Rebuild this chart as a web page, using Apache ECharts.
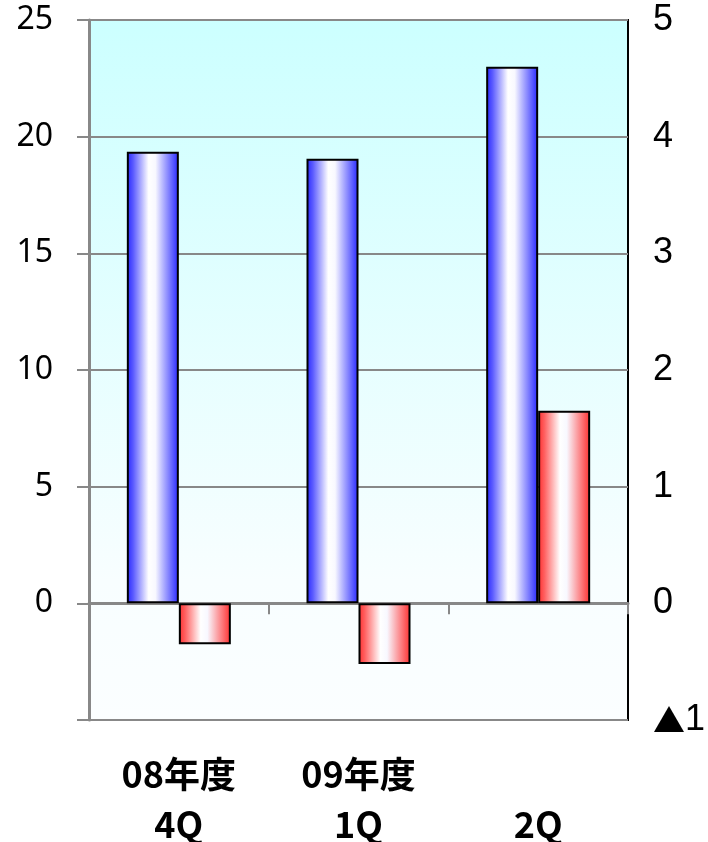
<!DOCTYPE html>
<html>
<head>
<meta charset="utf-8">
<style>
  html, body { margin: 0; padding: 0; background: #ffffff; }
  #chart { width: 708px; height: 842px; }
</style>
<script src="https://cdn.jsdelivr.net/npm/echarts@6/dist/echarts.min.js"></script>
</head>
<body>
<div id="chart"></div>
<script>
// Fiscal periods (two-line category labels)
const yearLabels = ['08年度', '09年度', ''];
const quarterLabels = ['4Q', '1Q', '2Q'];
const categories = yearLabels.map((y, i) => y + '\n' + quarterLabels[i]);

// Left-axis series (blue bars) and right-axis series (red bars)
const leftValues = [19.35, 19.05, 23.0];
const rightValues = [-0.35, -0.52, 1.65];

// Axis tick settings
const leftAxis = { min: -5, max: 25, interval: 5 };
const rightAxis = { min: -1, max: 5, interval: 1 };

// Negative values on the right axis are written with a triangle
function formatRight(v) {
  return v < 0 ? '{tri|▲}' + Math.abs(v) : String(v);
}
function formatLeft(v) {
  return v < 0 ? '' : String(v);
}

// Cylinder-like shading across each bar
function barGradient(edge, mid) {
  return {
    type: 'linear', x: 0, y: 0, x2: 1, y2: 0,
    colorStops: [
      { offset: 0, color: edge },
      { offset: 0.12, color: mid },
      { offset: 0.42, color: '#ffffff' },
      { offset: 0.55, color: '#f8f8ff' },
      { offset: 1, color: edge }
    ]
  };
}

const chart = echarts.init(document.getElementById('chart'));
chart.setOption({
  animation: false,
  grid: {
    left: 89, right: 80, top: 20, bottom: 122,
    outerBoundsMode: 'none',
    show: true,
    borderColor: '#000000',
    borderWidth: 2,
    backgroundColor: {
      type: 'linear', x: 0, y: 0, x2: 0, y2: 1,
      colorStops: [
        { offset: 0, color: '#ccffff' },
        { offset: 0.8, color: '#f8feff' },
        { offset: 1, color: '#fbfeff' }
      ]
    }
  },
  xAxis: [
    {
      // zero line with category boundary ticks
      type: 'category',
      data: categories,
      axisLine: { onZero: true, onZeroAxisIndex: 0, lineStyle: { color: '#888888', width: 3 } },
      axisTick: { show: true, length: 11, lineStyle: { color: '#888888', width: 2 } },
      axisLabel: { show: false }
    },
    {
      // category names under the plot
      type: 'category',
      data: categories,
      position: 'bottom',
      axisLine: { show: false, onZero: false },
      axisTick: { show: false },
      axisLabel: {
        margin: 29,
        color: '#000000',
        fontFamily: 'Noto Sans CJK JP',
        fontWeight: 'bold',
        fontSize: 36,
        lineHeight: 50
      }
    }
  ],
  yAxis: [
    {
      type: 'value',
      position: 'left',
      min: leftAxis.min, max: leftAxis.max, interval: leftAxis.interval,
      axisLine: { show: true, lineStyle: { color: '#888888', width: 3 } },
      axisTick: { show: true, length: 12, lineStyle: { color: '#888888', width: 2 } },
      splitLine: { show: true, lineStyle: { color: '#888888', width: 2 } },
      axisLabel: {
        margin: 36,
        color: '#000000',
        fontFamily: 'Noto Sans',
        fontSize: 32,
        formatter: formatLeft
      }
    },
    {
      type: 'value',
      position: 'right',
      min: rightAxis.min, max: rightAxis.max, interval: rightAxis.interval,
      axisLine: { show: false },
      axisTick: { show: false },
      splitLine: { show: false },
      axisLabel: {
        margin: 25,
        color: '#000000',
        fontFamily: 'Liberation Sans',
        fontSize: 36,
        formatter: formatRight,
        rich: {
          tri: { fontFamily: 'Noto Sans CJK JP', fontSize: 32, color: '#000000' }
        }
      }
    }
  ],
  series: [
    {
      type: 'bar',
      xAxisIndex: 0,
      yAxisIndex: 0,
      data: leftValues,
      barWidth: 52,
      barGap: '0%',
      itemStyle: { color: barGradient('#2626ff', '#5a5aff'), borderColor: '#000000', borderWidth: 2 }
    },
    {
      type: 'bar',
      xAxisIndex: 0,
      yAxisIndex: 1,
      data: rightValues,
      barWidth: 52,
      barGap: '0%',
      itemStyle: { color: barGradient('#ff2e2e', '#ff6060'), borderColor: '#000000', borderWidth: 2 }
    }
  ]
});
</script>
</body>
</html>
